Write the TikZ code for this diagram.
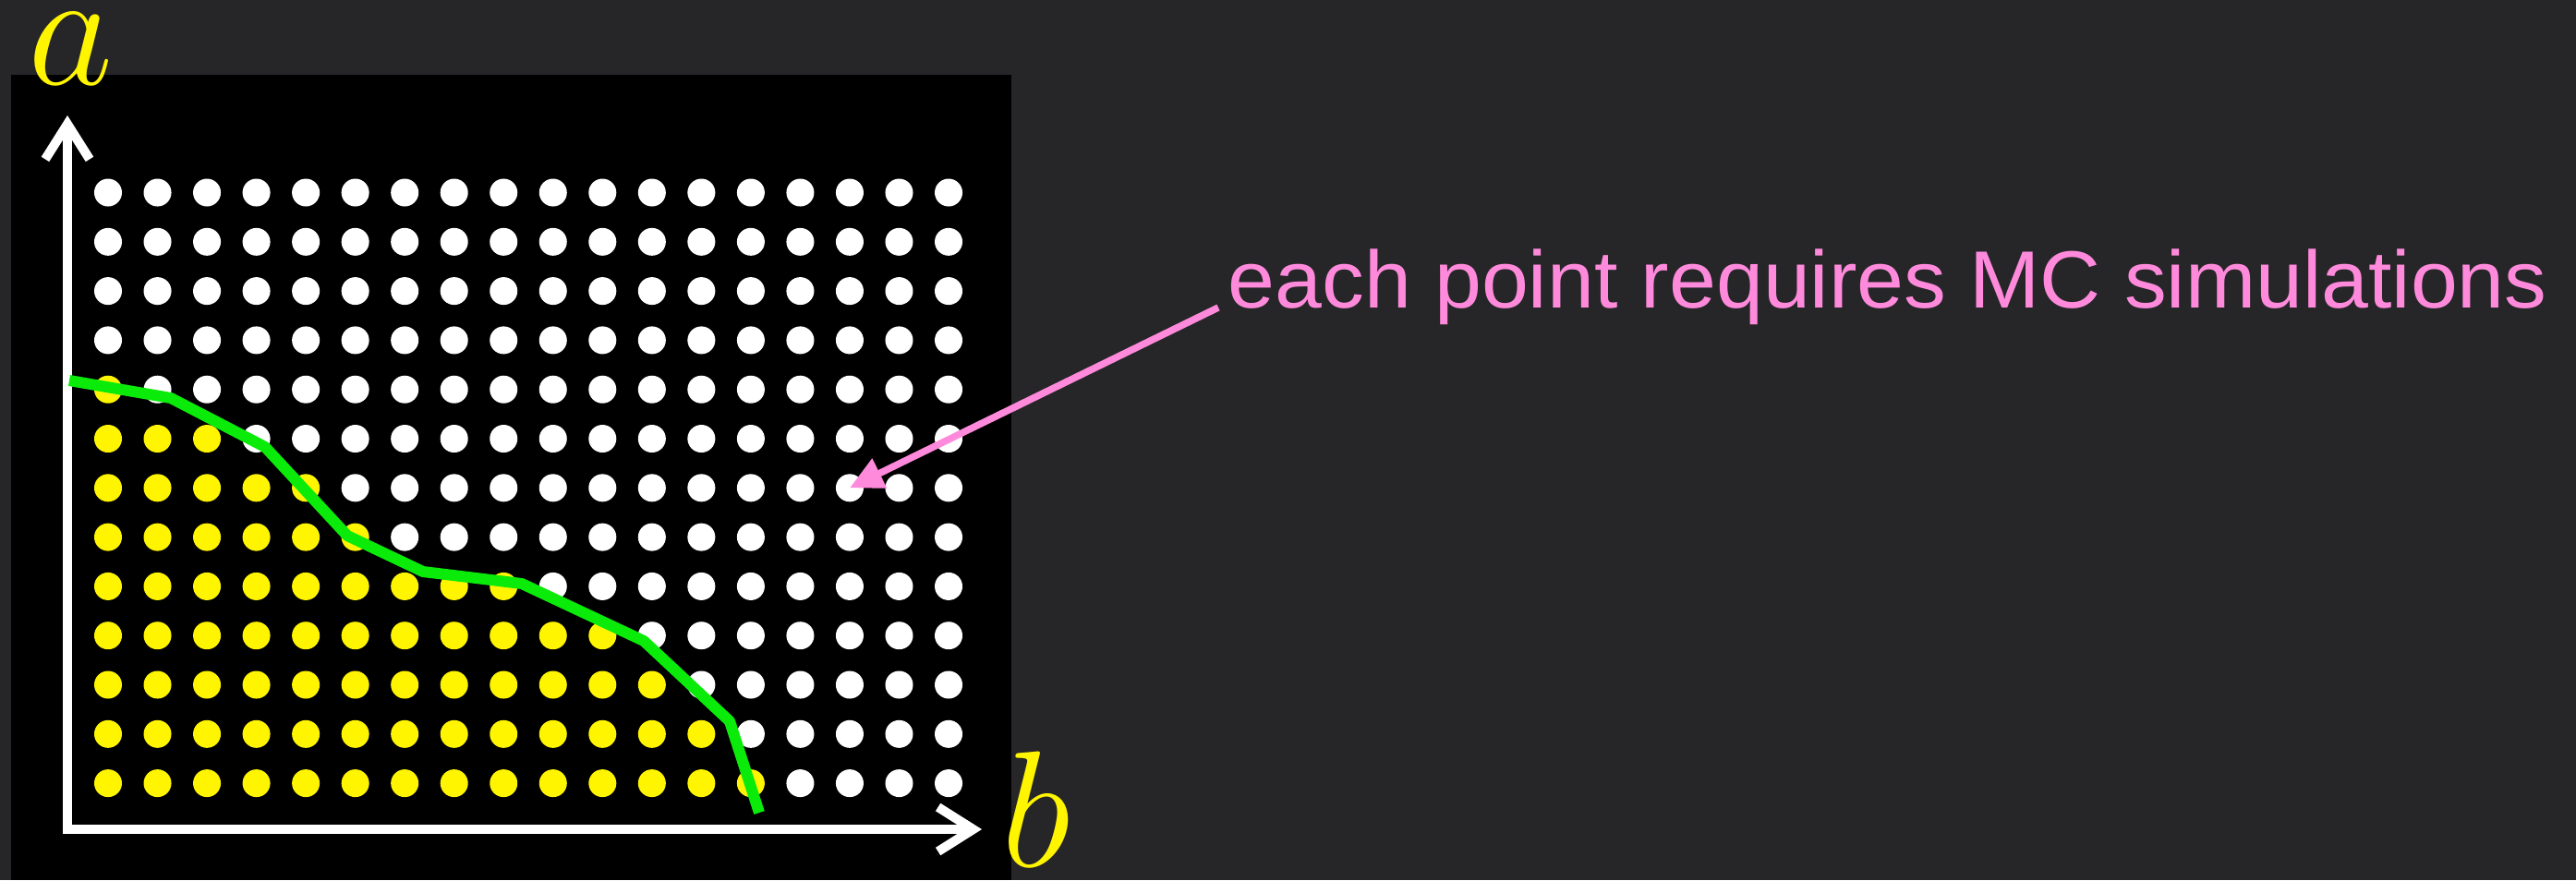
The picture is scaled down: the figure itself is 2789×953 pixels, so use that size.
\RequirePackage{fix-cm}
\documentclass[tikz,border=0pt]{standalone}
\usepackage{fontspec}
\newfontfamily\notefont[FakeStretch=1.04]{Liberation Sans}
\usetikzlibrary{arrows.meta}

\definecolor{board}{RGB}{38,38,40}
\definecolor{curvegreen}{RGB}{10,235,10}
\definecolor{notepink}{RGB}{255,138,220}
\definecolor{dotyellow}{RGB}{255,245,0}

\tikzset{
  barb/.tip={Straight Barb[length=0.38cm,width=0.48cm]},
  axisline/.style={white, line width=0.1cm, barb-barb},
  boundary/.style={curvegreen, line width=0.12cm, line join=round},
  axislabel/.style={dotyellow, inner sep=0pt, font=\fontsize{51}{51}\selectfont},
  note/.style={notepink, inner sep=0pt, inner xsep=0.1cm, font=\notefont\fontsize{25}{30}\selectfont},
  pointer/.style={notepink, line width=0.075cm, -{Triangle[length=0.36cm,width=0.34cm]}}
}

\begin{document}
\begin{tikzpicture}[x=0.01cm, y=-0.01cm]
    \fill[board] (0,0) rectangle (2789,953);
    \useasboundingbox (0,0) rectangle (2789,953);
    \fill[black] (12,81) rectangle (1095,953);

    \foreach \r/\n in {0/0, 1/0, 2/0, 3/0, 4/1, 5/3, 6/5, 7/6, 8/9, 9/11, 10/12, 11/13, 12/14} {
        \foreach \c in {0,...,17} {
            \ifnum\c<\n \def\dotcol{dotyellow}\else\def\dotcol{white}\fi
            \coordinate (d-\c-\r) at ({117+53.53*\c}, {208.5+53.3*\r});
            \fill[\dotcol] (d-\c-\r) circle (0.15cm);
        }
    }

    \coordinate (o) at (73,898);
    \coordinate (ya) at (73,125);
    \coordinate (xb) at (1063,898);
    \draw[axisline] (ya) -- (o) -- (xb);

    \draw[boundary] (75,412) -- (185,431) -- (287,484) -- (376,580) -- (458,619)
        -- (565,632) -- (697,694) -- (790,781) -- (822,880);

    \node[axislabel, anchor=base] (alabel) at (77,91) {$a$};
    \node[axislabel, anchor=base] (blabel) at (1122,938) {$b$};

    \node[note, anchor=base west] (mcnote) at (1319,333) {each point requires MC simulations};
    \draw[pointer] (mcnote.base west) -- (d-15-6);
\end{tikzpicture}
\end{document}
